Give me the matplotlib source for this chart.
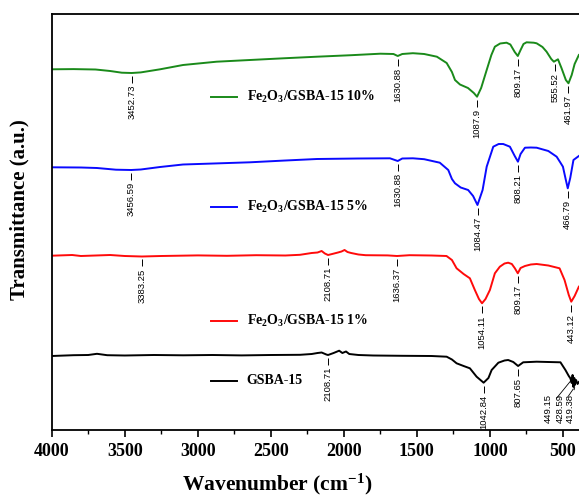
import numpy as np
import matplotlib
matplotlib.use("Agg")
import matplotlib.pyplot as plt

# ---- spectra (wavenumber cm-1, offset transmittance a.u.) ----
green_w = [4000, 3850, 3700, 3600, 3520, 3452, 3390, 3258, 3101, 2871, 2643, 2400, 2184,
           1950, 1750, 1660, 1631, 1600, 1527, 1450, 1363, 1296, 1260, 1239, 1205, 1150,
           1110, 1088, 1060, 1022, 990, 966, 930, 886, 860, 830, 809, 790, 770, 749, 700,
           680, 640, 612, 580, 562, 534, 510, 480, 462, 440, 420, 391]
green_t = [360.7, 360.9, 360.5, 359.0, 357.3, 357.0, 357.6, 360.7, 365.0, 368.3, 370.0, 371.8,
           373.3, 374.8, 376.3, 376.0, 374.0, 376.0, 376.8, 376.0, 373.3, 367.0, 358.0, 350.0,
           345.5, 342.0, 337.0, 333.3, 342.0, 360.0, 375.0, 383.3, 386.5, 387.3, 385.5, 378.0,
           374.0, 380.0, 386.0, 387.7, 387.3, 386.7, 383.0, 378.3, 371.0, 368.3, 370.7, 362.0,
           350.0, 346.7, 355.0, 366.0, 375.0]

blue_w = [4000, 3800, 3690, 3560, 3456, 3390, 3258, 3101, 2871, 2643, 2400, 2184, 1900,
          1684, 1631, 1600, 1527, 1450, 1343, 1285, 1260, 1239, 1200, 1149, 1115, 1085,
          1050, 1022, 977, 940, 909, 863, 830, 808, 790, 760, 720, 680, 600, 543, 520,
          500, 480, 467, 450, 428, 391]
blue_t = [262.7, 262.5, 262.0, 260.3, 260.0, 260.5, 263.0, 265.5, 266.6, 267.7, 269.5, 271.0,
          271.5, 271.7, 269.0, 271.5, 271.7, 270.8, 267.3, 260.0, 251.0, 246.7, 242.5, 240.0,
          234.0, 225.0, 240.0, 263.3, 283.3, 286.0, 286.0, 283.3, 274.0, 268.3, 276.0, 282.3,
          282.5, 282.3, 279.0, 273.3, 268.0, 263.3, 250.0, 241.7, 252.0, 270.0, 274.0]

red_w = [4000, 3860, 3800, 3700, 3600, 3500, 3383, 3250, 3000, 2800, 2600, 2400, 2300, 2220,
         2180, 2152, 2130, 2108, 2080, 2040, 2016, 1995, 1975, 1950, 1900, 1850, 1700, 1636,
         1550, 1400, 1297, 1260, 1228, 1180, 1137, 1103, 1075, 1054, 1030, 1000, 966, 932,
         900, 875, 850, 829, 809, 790, 760, 720, 680, 600, 523, 489, 460, 443, 420, 391]
red_t = [174.3, 175.0, 174.0, 174.5, 175.0, 174.0, 173.5, 174.0, 174.6, 174.2, 174.8, 174.5,
         175.2, 177.0, 177.5, 179.0, 176.5, 175.0, 176.0, 177.5, 178.5, 180.0, 178.0, 177.0,
         175.5, 174.8, 174.6, 174.0, 174.8, 174.5, 174.0, 170.0, 161.7, 156.0, 151.7, 140.0,
         131.0, 126.7, 131.0, 140.0, 156.7, 163.3, 166.5, 167.3, 166.0, 161.7, 156.7, 162.0,
         164.0, 165.5, 166.0, 164.5, 161.7, 150.0, 135.0, 128.3, 134.0, 143.3]

black_w = [4000, 3850, 3750, 3690, 3620, 3500, 3300, 3100, 2900, 2700, 2500, 2300, 2220,
           2180, 2152, 2120, 2108, 2070, 2032, 2010, 1985, 1963, 1900, 1800, 1600, 1400,
           1296, 1260, 1228, 1180, 1137, 1091, 1043, 1010, 988, 942, 900, 875, 840, 807,
           772, 680, 600, 517, 483, 460, 449, 440, 434, 428, 422, 419, 410, 400, 391]
black_t = [74.0, 74.8, 75.0, 76.2, 74.8, 74.5, 75.0, 74.7, 75.0, 74.6, 75.0, 75.2, 76.0,
           77.0, 77.5, 75.5, 75.0, 77.0, 79.3, 77.0, 78.5, 76.0, 75.0, 74.5, 74.2, 74.0,
           73.3, 70.5, 66.7, 64.0, 61.7, 53.3, 47.3, 52.0, 60.0, 67.3, 69.5, 70.0, 68.0,
           64.0, 67.7, 68.3, 68.0, 67.7, 60.0, 54.0, 51.7, 47.0, 55.0, 43.0, 52.0, 45.0,
           50.0, 46.0, 48.0]

names = ["Fe$_2$O$_3$/GSBA-15 10%", "Fe$_2$O$_3$/GSBA-15 5%",
         "Fe$_2$O$_3$/GSBA-15 1%", "GSBA-15"]
colors = ["#1a8a1a", "#0a0aff", "#ff0a0a", "#000000"]

# peak labels per spectrum
green_peaks = ["3452.73", "1630.88", "1087.9", "809.17", "555.52", "461.97"]
blue_peaks = ["3456.59", "1630.88", "1084.47", "808.21", "466.79"]
red_peaks = ["3383.25", "2108.71", "1636.37", "1054.11", "809.17", "443.12"]
black_peaks = ["2108.71", "1042.84", "807.65"]
black_crowded = ["449.15", "428.59", "419.38"]

plt.rcParams["font.family"] = ["Liberation Serif", "DejaVu Serif"]
plt.rcParams["mathtext.default"] = "regular"

fig = plt.figure(figsize=(5.79, 4.96), dpi=100)
ax = fig.add_axes([51.7 / 579, 1 - 430 / 496, 1 - 51.7 / 579, 416 / 496])

series = [(green_w, green_t, green_peaks), (blue_w, blue_t, blue_peaks),
          (red_w, red_t, red_peaks), (black_w, black_t, black_peaks)]

for (w, t, peaks), c in zip(series, colors):
    ax.plot(w, t, color=c, lw=1.4)
    wr, tr = np.array(w)[::-1], np.array(t)[::-1]
    for lab in peaks:
        x = float(lab)
        yc = np.interp(x, wr, tr)
        ax.vlines(x, yc - 10, yc - 3, color="k", lw=0.7)
        ax.text(x, yc - 12, lab, rotation=90, ha="center", va="top",
                fontsize=6.8, family="Liberation Sans")

# the three crowded GSBA-15 labels with leader lines
wr, tr = np.array(black_w)[::-1], np.array(black_t)[::-1]
for lab, tx in zip(black_crowded, [601, 521, 452]):
    x = float(lab)
    yc = np.interp(x, wr, tr)
    ax.annotate(lab, xy=(x, yc - 3), xytext=(tx, 36), rotation=90, ha="center", va="top",
                fontsize=6.8, family="Liberation Sans",
                arrowprops=dict(arrowstyle="-", lw=0.6, color="k", shrinkA=1, shrinkB=0))

# in-plot legend
for name, c, yf in zip(names, colors, [0.7998, 0.5368, 0.262, 0.1178]):
    ax.plot([0.3015, 0.3508], [yf, yf], color=c, lw=1.4, transform=ax.transAxes)
    ax.text(0.3698, yf, name, transform=ax.transAxes, va="center", ha="left",
            fontsize=10, fontweight="bold")

ax.set_xlim(4000, 390)
ax.set_ylim(0, 416)
ax.set_xticks([4000, 3500, 3000, 2500, 2000, 1500, 1000, 500])
ax.set_xticks(np.arange(3750, 390, -500), minor=True)
ax.set_yticks([])
ax.tick_params(axis="x", which="major", direction="out", length=5, width=1.2, pad=4,
               labelsize=13)
ax.tick_params(axis="x", which="minor", direction="out", length=3, width=1.0)
for lab in ax.get_xticklabels():
    lab.set_fontweight("bold")
for s in ["left", "top", "bottom"]:
    ax.spines[s].set_linewidth(1.3)
ax.spines["right"].set_visible(False)

fig.text(277 / 579, 1 - 484 / 496, "Wavenumber (cm$^{-1}$)", ha="center", va="center",
         fontsize=15.5, fontweight="bold")
fig.text(19 / 579, 1 - 210 / 496, "Transmittance (a.u.)", ha="center", va="center",
         rotation=90, fontsize=15, fontweight="bold")

fig.savefig("out.png", dpi=100)
